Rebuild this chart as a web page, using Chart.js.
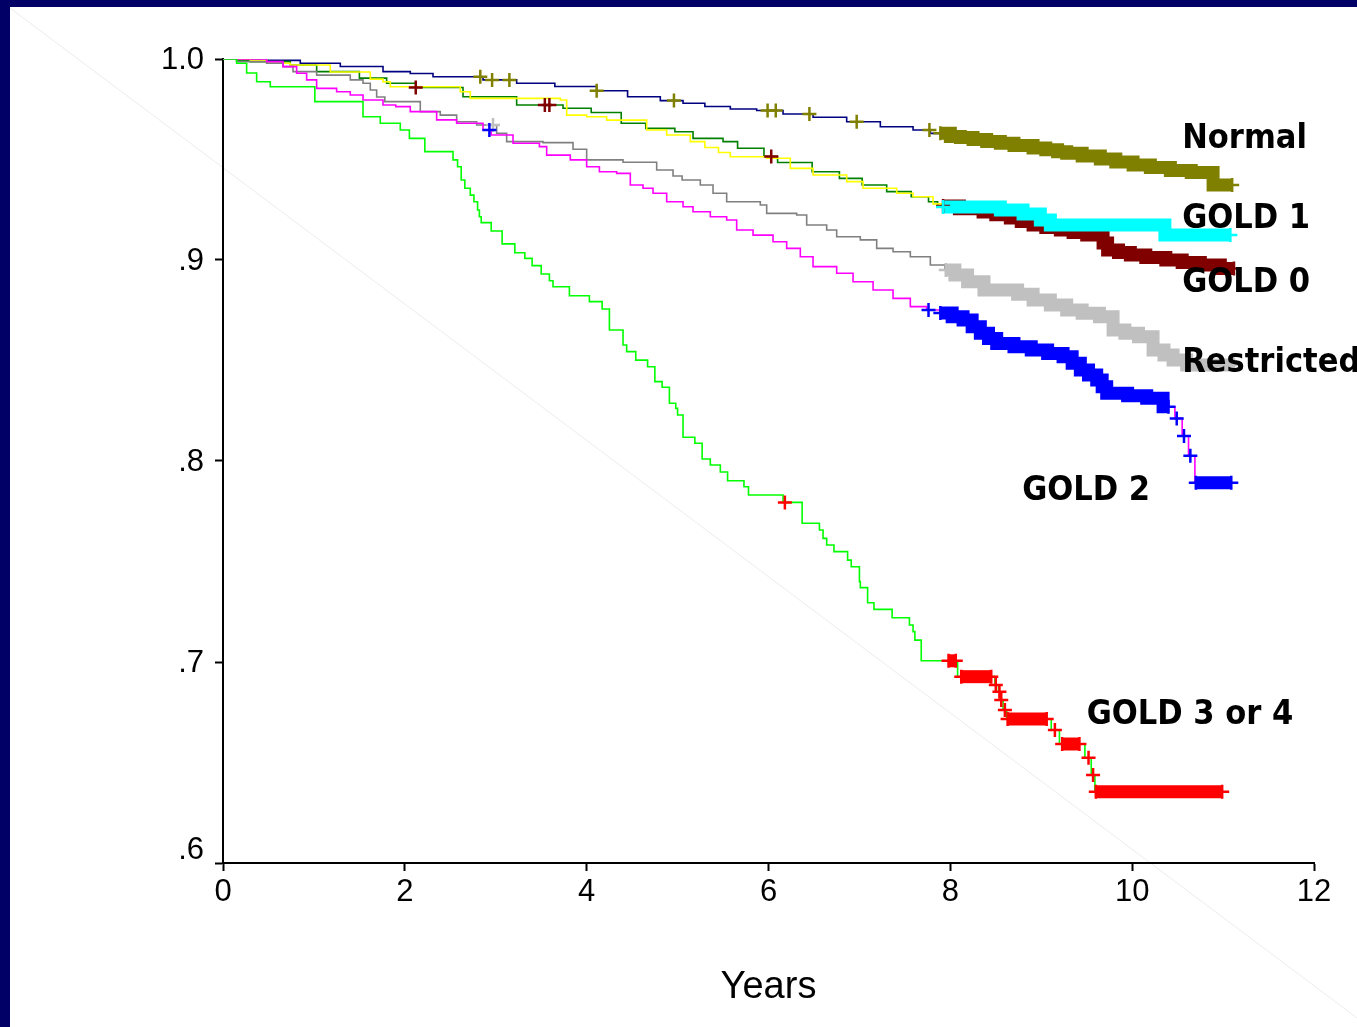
<!DOCTYPE html>
<html><head><meta charset="utf-8">
<script src="https://cdn.jsdelivr.net/npm/chart.js@4.4.1/dist/chart.umd.min.js"></script>
<style>
html,body{margin:0;padding:0;background:#fff;overflow:hidden;}
#wrap{position:relative;width:1357px;height:1027px;}
#frameTop{position:absolute;left:0;top:0;width:1357px;height:7px;background:#000066;}
#frameLeft{position:absolute;left:0;top:0;width:10px;height:1027px;background:#000066;}
</style></head><body>
<div id="wrap"><canvas id="c"></canvas><div id="frameTop"></div><div id="frameLeft"></div></div>
<script>
// ---------- DATA ----------
// Kaplan-Meier step curves: event times (years) and survival after each step
const normalT = [0, 0.41, 0.85, 1.29, 1.76, 2.06, 2.31, 2.86, 3.23, 3.65, 4.11, 4.45, 4.81, 5.06, 5.30, 5.58, 5.87, 6.16, 6.49, 6.86, 7.23, 7.59, 7.78, 8.00, 8.11, 8.25, 8.40, 8.55, 8.70, 8.91, 9.05, 9.18, 9.28, 9.45, 9.65, 9.82, 10.01, 10.20, 10.42, 10.65, 10.89, 11.10];
const normalS = [1.0, 0.9993, 0.9979, 0.9963, 0.9937, 0.9928, 0.9912, 0.9896, 0.9879, 0.9863, 0.9842, 0.9812, 0.9793, 0.9780, 0.9764, 0.9751, 0.9744, 0.9726, 0.9710, 0.9688, 0.9663, 0.9647, 0.9630, 0.9615, 0.9609, 0.9600, 0.9590, 0.9581, 0.9570, 0.9557, 0.9548, 0.9538, 0.9531, 0.9518, 0.9502, 0.9488, 0.9473, 0.9460, 0.9445, 0.9435, 0.9373, 0.9373];
const normalCensor = [2.83, 2.96, 3.15, 4.11, 4.96, 5.99, 6.08, 6.45, 6.97, 7.77];
const normalDense = [[7.89, 11.10]];

const gold0T = [0, 0.15, 0.30, 0.74, 1.03, 1.50, 1.80, 2.12, 2.64, 3.23, 3.74, 4.05, 4.38, 4.65, 4.97, 5.17, 5.50, 5.66, 5.95, 6.10, 6.48, 6.78, 7.03, 7.30, 7.57, 7.76, 7.86, 8.10, 8.36, 8.50, 8.66, 8.78, 8.91, 9.05, 9.21, 9.35, 9.50, 9.68, 9.73, 9.85, 9.98, 10.15, 10.37, 10.55, 10.75, 10.97, 11.12];
const gold0S = [1.0, 0.9992, 0.9987, 0.9970, 0.9937, 0.9905, 0.9879, 0.9858, 0.9812, 0.9771, 0.9755, 0.9734, 0.9680, 0.9655, 0.9638, 0.9605, 0.9589, 0.9556, 0.9515, 0.9485, 0.9439, 0.9406, 0.9373, 0.9340, 0.9315, 0.9290, 0.9269, 0.9255, 0.9239, 0.9225, 0.9209, 0.9192, 0.9174, 0.9162, 0.9149, 0.9137, 0.9124, 0.9085, 0.9050, 0.9037, 0.9025, 0.9013, 0.9000, 0.8988, 0.8975, 0.8958, 0.8958];
const gold0Censor = [2.12, 3.54, 3.59, 6.03];
const gold0Dense = [[7.92, 11.12]];

const gold1T = [0, 0.30, 0.48, 0.74, 1.18, 1.62, 1.76, 1.84, 2.61, 2.72, 3.71, 3.78, 4.00, 4.22, 4.66, 4.88, 5.14, 5.30, 5.45, 5.58, 5.98, 6.24, 6.49, 6.86, 7.04, 7.41, 7.59, 7.81, 7.90, 8.55, 8.80, 8.99, 9.10, 10.36, 11.08];
const gold1S = [1.0, 0.9993, 0.9979, 0.9970, 0.9935, 0.9900, 0.9887, 0.9862, 0.9837, 0.9804, 0.9796, 0.9721, 0.9713, 0.9696, 0.9647, 0.9622, 0.9589, 0.9560, 0.9535, 0.9514, 0.9506, 0.9456, 0.9423, 0.9390, 0.9357, 0.9332, 0.9315, 0.9279, 0.9264, 0.9249, 0.9229, 0.9199, 0.9174, 0.9124, 0.9124];
const gold1Censor = [];
const gold1Dense = [[7.92, 11.08]];

const restrictedT = [0, 0.15, 0.48, 0.66, 0.77, 1.03, 1.40, 1.54, 1.62, 1.69, 1.78, 2.17, 2.39, 2.57, 2.79, 3.01, 3.12, 3.52, 3.85, 4.00, 4.40, 4.77, 4.95, 5.05, 5.25, 5.39, 5.54, 5.91, 5.98, 6.31, 6.42, 6.64, 6.75, 7.01, 7.19, 7.37, 7.56, 7.78, 7.94, 8.05, 8.19, 8.37, 8.74, 8.91, 9.10, 9.28, 9.45, 9.64, 9.79, 9.92, 10.07, 10.23, 10.35, 10.45, 10.60, 11.12];
const restrictedS = [1.0, 0.9987, 0.9979, 0.9962, 0.9937, 0.9920, 0.9896, 0.9879, 0.9846, 0.9811, 0.9788, 0.9738, 0.9721, 0.9688, 0.9672, 0.9630, 0.9589, 0.9584, 0.9551, 0.9498, 0.9486, 0.9448, 0.9418, 0.9398, 0.9373, 0.9332, 0.9290, 0.9274, 0.9232, 0.9224, 0.9174, 0.9149, 0.9116, 0.9100, 0.9058, 0.9041, 0.9016, 0.8975, 0.8950, 0.8925, 0.8892, 0.8851, 0.8830, 0.8801, 0.8776, 0.8751, 0.8735, 0.8718, 0.8652, 0.8635, 0.8618, 0.8552, 0.8527, 0.8502, 0.8478, 0.8478];
const restrictedCensor = [2.97];
const restrictedDense = [[7.95, 11.12]];

const gold2T = [0, 0.48, 0.66, 0.81, 0.92, 1.03, 1.25, 1.40, 1.54, 1.76, 1.90, 2.06, 2.35, 2.57, 2.86, 2.95, 3.19, 3.48, 3.56, 3.82, 4.00, 4.14, 4.33, 4.48, 4.62, 4.73, 4.88, 5.06, 5.17, 5.36, 5.54, 5.65, 5.83, 6.05, 6.20, 6.35, 6.49, 6.75, 6.93, 7.15, 7.37, 7.56, 7.74, 7.89, 8.02, 8.14, 8.24, 8.33, 8.42, 8.51, 8.70, 8.89, 9.07, 9.24, 9.34, 9.43, 9.52, 9.61, 9.67, 9.72, 9.95, 10.16, 10.34, 10.47, 10.55, 10.62, 10.69, 11.09];
const gold2S = [1.0, 0.9987, 0.9962, 0.9929, 0.9896, 0.9854, 0.9837, 0.9821, 0.9796, 0.9771, 0.9763, 0.9738, 0.9697, 0.9680, 0.9647, 0.9622, 0.9581, 0.9564, 0.9522, 0.9498, 0.9464, 0.9439, 0.9431, 0.9373, 0.9357, 0.9332, 0.9290, 0.9265, 0.9240, 0.9215, 0.9199, 0.9149, 0.9124, 0.9091, 0.9058, 0.9016, 0.8967, 0.8934, 0.8892, 0.8851, 0.8809, 0.8768, 0.8751, 0.8736, 0.8718, 0.8701, 0.8668, 0.8635, 0.8610, 0.8585, 0.8568, 0.8552, 0.8535, 0.8519, 0.8486, 0.8453, 0.8428, 0.8403, 0.8370, 0.8337, 0.8325, 0.8312, 0.8270, 0.8212, 0.8124, 0.8026, 0.7892, 0.7892];
const gold2Censor = [2.93, 7.76, 10.49, 10.57, 10.64];
const gold2Dense = [[7.89, 10.40], [10.70, 11.09]];

const gold34T = [0, 0.15, 0.26, 0.37, 0.52, 1.01, 1.54, 1.73, 1.95, 2.05, 2.22, 2.53, 2.58, 2.62, 2.66, 2.72, 2.76, 2.80, 2.82, 2.84, 2.95, 3.07, 3.21, 3.32, 3.40, 3.50, 3.59, 3.63, 3.81, 4.03, 4.17, 4.25, 4.40, 4.44, 4.54, 4.67, 4.75, 4.83, 4.91, 4.98, 5.00, 5.06, 5.19, 5.27, 5.36, 5.47, 5.55, 5.73, 5.78, 6.16, 6.37, 6.56, 6.60, 6.64, 6.72, 6.87, 6.91, 7.00, 7.01, 7.09, 7.16, 7.36, 7.55, 7.59, 7.61, 7.68, 8.08, 8.49, 8.53, 8.55, 8.58, 8.62, 9.11, 9.20, 9.48, 9.55, 9.59, 11.00];
const gold34S = [1.0, 0.9979, 0.9930, 0.9887, 0.9862, 0.9788, 0.9713, 0.9680, 0.9647, 0.9605, 0.9539, 0.9498, 0.9464, 0.9398, 0.9357, 0.9323, 0.9290, 0.9249, 0.9215, 0.9186, 0.9144, 0.9080, 0.9036, 0.9008, 0.8972, 0.8930, 0.8897, 0.8867, 0.8822, 0.8793, 0.8756, 0.8652, 0.8577, 0.8544, 0.8502, 0.8469, 0.8395, 0.8367, 0.8287, 0.8262, 0.8229, 0.8118, 0.8088, 0.8010, 0.7980, 0.7945, 0.7902, 0.7872, 0.7831, 0.7794, 0.7690, 0.7657, 0.7615, 0.7582, 0.7549, 0.7507, 0.7474, 0.7400, 0.7370, 0.7295, 0.7262, 0.7220, 0.7184, 0.7151, 0.7109, 0.7006, 0.6927, 0.6886, 0.6852, 0.6811, 0.6761, 0.6716, 0.6662, 0.6592, 0.6524, 0.6438, 0.6355, 0.6355];
const gold34Censor = [6.18, 8.50, 8.54, 8.56, 8.60, 9.15, 9.52, 9.57];
const gold34Dense = [[7.98, 8.06], [8.12, 8.45], [8.63, 9.06], [9.23, 9.42], [9.60, 10.99]];

const curveNames = ['Normal', 'GOLD 0', 'GOLD 1', 'Restricted', 'GOLD 2', 'GOLD 3 or 4'];
const yTickValues = [1.0, 0.9, 0.8, 0.7, 0.6];
const yTickLabels = ['1.0', '.9', '.8', '.7', '.6'];
const xTitle = 'Years';

// ---------- STYLE / LAYOUT ----------
const lineColors = ['#000080', '#008000', '#ffff00', '#808080', '#ff00ff', '#00ff00'];
const markColors = ['#808000', '#800000', '#00ffff', '#c0c0c0', '#0000ff', '#ff0000'];
// label anchors (left x in years, baseline in survival units)
const labelPlace = {
  'Normal': [10.55, 0.9557], 'GOLD 1': [10.55, 0.9159], 'GOLD 0': [10.55, 0.8841],
  'Restricted': [10.55, 0.8443], 'GOLD 2': [8.79, 0.7806], 'GOLD 3 or 4': [9.50, 0.6692]
};
const labelFont = 'bold 34px "DejaVu Sans Condensed", "DejaVu Sans", sans-serif';
const tickFont = '"Liberation Sans", Arial, sans-serif';

// ---------- BUILD ----------
const series = [
  [normalT, normalS, normalCensor, normalDense],
  [gold0T, gold0S, gold0Censor, gold0Dense],
  [gold1T, gold1S, gold1Censor, gold1Dense],
  [restrictedT, restrictedS, restrictedCensor, restrictedDense],
  [gold2T, gold2S, gold2Censor, gold2Dense],
  [gold34T, gold34S, gold34Censor, gold34Dense]
];
function survAt(T, S, t) { let v = S[0]; for (let i = 0; i < T.length; i++) { if (T[i] <= t + 1e-9) v = S[i]; } return v; }

const datasets = [];
series.forEach(([T, S, C, D], gi) => {
  datasets.push({
    label: curveNames[gi], data: T.map((t, i) => ({x: t, y: S[i]})),
    borderColor: lineColors[gi], borderWidth: 1.6, stepped: true, pointRadius: 0,
    fill: false, order: 100 - gi
  });
  D.forEach(([a, b]) => {
    const pts = [{x: a, y: survAt(T, S, a)}];
    T.forEach((t, i) => { if (t > a && t < b) pts.push({x: t, y: S[i]}); });
    pts.push({x: b, y: survAt(T, S, b)});
    datasets.push({
      label: curveNames[gi] + ' censored', data: pts, borderColor: markColors[gi], borderWidth: 13,
      borderCapStyle: 'butt', borderJoinStyle: 'miter', stepped: true, pointRadius: 0, fill: false, order: 60 - gi
    });
  });
  const cpts = C.map(t => ({x: t, y: survAt(T, S, t)}));
  D.forEach(([a, b]) => { cpts.push({x: a, y: survAt(T, S, a)}); cpts.push({x: b, y: survAt(T, S, b)}); });
  datasets.push({
    label: curveNames[gi] + ' marks', data: cpts, showLine: false, pointStyle: 'cross',
    pointRadius: 7, pointBorderWidth: 2.5, pointBorderColor: markColors[gi], borderColor: markColors[gi],
    backgroundColor: markColors[gi], order: 30 - gi
  });
});

const decor = {
  id: 'decor',
  beforeDraw(chart) {
    const ctx = chart.ctx;
    ctx.save();
    ctx.strokeStyle = '#ececec'; ctx.lineWidth = 1;
    ctx.beginPath(); ctx.moveTo(10, 8); ctx.lineTo(1357, 1018); ctx.stroke();
    ctx.restore();
  },
  afterDraw(chart) {
    const ctx = chart.ctx, xs = chart.scales.x, ys = chart.scales.y;
    ctx.save();
    ctx.fillStyle = '#000';
    ctx.font = '31px ' + tickFont;
    ctx.textAlign = 'right'; ctx.textBaseline = 'middle';
    yTickValues.forEach((v, i) => {
      let y = ys.getPixelForValue(v);
      if (i === yTickValues.length - 1) y -= 14;
      ctx.fillText(yTickLabels[i], 204, y + 1);
    });
    ctx.font = labelFont;
    ctx.textAlign = 'left'; ctx.textBaseline = 'alphabetic';
    curveNames.forEach(n => {
      const p = labelPlace[n];
      ctx.fillText(n, xs.getPixelForValue(p[0]), ys.getPixelForValue(p[1]));
    });
    ctx.restore();
  }
};

new Chart(document.getElementById('c'), {
  type: 'line',
  data: {datasets},
  options: {
    responsive: true, maintainAspectRatio: false, animation: false,
    layout: {padding: {left: 0, top: 59, right: 43, bottom: 0}},
    plugins: {legend: {display: false}, tooltip: {enabled: false}},
    scales: {
      x: {
        type: 'linear', min: 0, max: 12,
        ticks: {stepSize: 2, color: '#000', font: {family: tickFont, size: 31}, padding: 3, maxRotation: 0, autoSkip: false},
        grid: {display: true, drawOnChartArea: false, drawTicks: true, tickLength: 8, tickWidth: 2, tickColor: '#000'},
        border: {display: true, color: '#000', width: 2},
        title: {display: true, text: xTitle, color: '#000', font: {family: tickFont, size: 38}, padding: {top: 0, bottom: 17}},
        afterFit(s) { s.height = 164; }
      },
      y: {
        type: 'linear', min: 0.6, max: 1.0,
        ticks: {stepSize: 0.1, display: false},
        grid: {display: true, drawOnChartArea: false, drawTicks: true, tickLength: 8, tickWidth: 2, tickColor: '#000'},
        border: {display: true, color: '#000', width: 2},
        afterFit(s) { s.width = 223; }
      }
    }
  },
  plugins: [decor]
});
</script>
</body></html>
